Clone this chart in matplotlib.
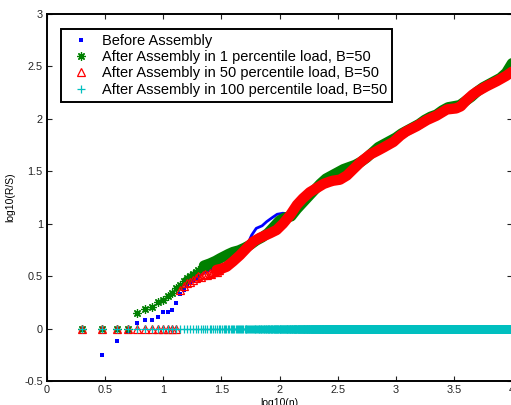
import numpy as np
import matplotlib
matplotlib.use("Agg")
import matplotlib.pyplot as plt
from matplotlib.lines import Line2D

plt.rcParams['font.family'] = ['Liberation Sans', 'DejaVu Sans']

# ---------------- data ----------------
# sample sizes n (x axis is log10(n))
sample_n = np.arange(2, 10001)

# Before Assembly: individual points for small n
before_n = [2, 3, 4, 5, 6, 7, 8, 9, 10, 11, 12, 13, 14, 15, 16, 17, 18, 19, 20]
before_y = [0.0, -0.25, -0.115, -0.02, 0.055, 0.082, 0.082, 0.114, 0.16, 0.16,
            0.177, 0.245, 0.327, 0.368, 0.416, 0.44, 0.46, 0.48, 0.50]
# Before Assembly: dense part (log10 n, log10 R/S)
before_bx = [1.30, 1.40, 1.50, 1.60, 1.68, 1.74, 1.76, 1.80, 1.85, 1.89, 1.94, 1.98,
             2.03, 2.08, 2.12, 2.20, 2.30, 2.40, 2.50, 2.60, 2.70, 2.80, 2.90, 3.00,
             3.10, 3.20, 3.30, 3.40, 3.50, 3.60, 3.70, 3.80, 3.90, 4.00]
before_by = [0.50, 0.56, 0.60, 0.65, 0.74, 0.84, 0.89, 0.956, 0.98, 1.02, 1.06, 1.09,
             1.10, 1.09, 1.12, 1.23, 1.35, 1.42, 1.46, 1.55, 1.60, 1.68, 1.75, 1.80,
             1.88, 1.95, 2.02, 2.07, 2.11, 2.18, 2.27, 2.33, 2.39, 2.48]

# After Assembly, 1 percentile load
p1_n = [2, 3, 4, 5, 6, 7, 8, 9, 10, 11, 12, 13, 14, 15, 16, 17, 18, 19, 20,
        21, 22, 23, 24, 25]
p1_y = [0.0, 0.0, 0.0, 0.0, 0.15, 0.187, 0.209, 0.257, 0.273, 0.311, 0.342, 0.39,
        0.42, 0.45, 0.48, 0.50, 0.52, 0.54, 0.555, 0.565, 0.575, 0.585, 0.595, 0.605]
p1_bx = [1.35, 1.40, 1.45, 1.49, 1.56, 1.60, 1.65, 1.70, 1.75, 1.80, 1.85,
         1.90, 1.95, 2.00, 2.05, 2.10, 2.15, 2.20, 2.25, 2.30, 2.35, 2.40, 2.45,
         2.50, 2.55, 2.60, 2.65, 2.70, 2.75, 2.80, 2.85, 2.90, 2.95, 3.00, 3.05,
         3.10, 3.15, 3.20, 3.25, 3.30, 3.35, 3.40, 3.45, 3.50, 3.55, 3.60, 3.65,
         3.70, 3.75, 3.80, 3.85, 3.90, 3.95, 4.00]
p1_by = [0.60, 0.62, 0.645, 0.67, 0.71, 0.73, 0.745, 0.77, 0.80, 0.84, 0.87,
         0.91, 0.97, 1.03, 1.06, 1.07, 1.14, 1.20, 1.26, 1.32, 1.38, 1.43, 1.46,
         1.49, 1.52, 1.54, 1.56, 1.59, 1.63, 1.68, 1.73, 1.76, 1.79, 1.82, 1.86,
         1.89, 1.92, 1.95, 1.99, 2.02, 2.04, 2.08, 2.11, 2.12, 2.13, 2.17, 2.21,
         2.26, 2.30, 2.33, 2.36, 2.39, 2.44, 2.53]

# After Assembly, 50 percentile load
p50_n = [2, 3, 4, 5, 6, 7, 8, 9, 10, 11, 12, 13, 14, 15, 16, 17, 18, 19, 20,
         21, 22, 23, 24, 25, 26, 27, 28, 29, 30]
p50_y = [0.0, 0.0, 0.0, 0.0, 0.0, 0.0, 0.0, 0.0, 0.0, 0.0, 0.0, 0.0, 0.37, 0.41,
         0.43, 0.44, 0.46, 0.48, 0.50, 0.49, 0.51, 0.52, 0.51, 0.53, 0.52, 0.54,
         0.55, 0.54, 0.56]
p50_bx = [1.46, 1.50, 1.545, 1.60, 1.66, 1.72, 1.775, 1.83, 1.88, 1.92,
          1.975, 2.03, 2.09, 2.15, 2.20, 2.26, 2.32, 2.38, 2.43, 2.46, 2.52, 2.58,
          2.635, 2.70, 2.78, 2.85, 2.90, 2.98, 3.04, 3.09, 3.18, 3.27, 3.35, 3.44,
          3.52, 3.56, 3.61, 3.66, 3.70, 3.78, 3.87, 3.95, 4.00]
p50_by = [0.56, 0.57, 0.59, 0.64, 0.70, 0.77, 0.83, 0.865, 0.89, 0.91,
          0.94, 1.00, 1.08, 1.18, 1.24, 1.30, 1.34, 1.38, 1.40, 1.41, 1.42, 1.46,
          1.52, 1.59, 1.66, 1.70, 1.73, 1.78, 1.84, 1.88, 1.93, 1.99, 2.03, 2.09,
          2.10, 2.12, 2.18, 2.23, 2.26, 2.31, 2.36, 2.41, 2.45]

# After Assembly, 100 percentile load: log10(R/S) is 0 for every n
p100_y = np.zeros(len(sample_n))

labels = ['Before Assembly',
          'After Assembly in 1 percentile load, B=50',
          'After Assembly in 50 percentile load, B=50',
          'After Assembly in 100 percentile load, B=50']

x_ticks = [0, 0.5, 1, 1.5, 2, 2.5, 3, 3.5, 4]
x_tick_labels = ['0', '0.5', '1', '1.5', '2', '2.5', '3', '3.5', '4']
y_ticks = [-0.5, 0, 0.5, 1, 1.5, 2, 2.5, 3]
y_tick_labels = ['-0.5', '0', '0.5', '1', '1.5', '2', '2.5', '3']

# ---------------- style ----------------
BLUE = (0, 0, 1)
GREEN = (0, 0.5, 0)
RED = (1, 0, 0)
CYAN = (0, 0.75, 0.75)

fig = plt.figure(figsize=(5.11, 4.05), dpi=100)
ax = fig.add_axes([47 / 511, 24 / 405, 465 / 511, 367 / 405])

# Before Assembly
ax.plot(before_bx, before_by, '-', color=BLUE, lw=2.0, solid_capstyle='round', zorder=2)
ax.plot(np.log10(before_n), before_y, ls='none', marker='s', color=BLUE, ms=2.2,
        mew=0, zorder=2)

# 1 percentile
ax.plot(p1_bx, p1_by, '-', color=GREEN, lw=7.5, solid_capstyle='round', zorder=3)
ax.plot(np.log10(p1_n), p1_y, ls='none', marker=(8, 2, 0), color=GREEN, ms=6,
        mew=0.9, zorder=3)

# 50 percentile
ax.plot(p50_bx, p50_by, '-', color=RED, lw=7.5, solid_capstyle='round', zorder=4)
ax.plot(np.log10(p50_n), p50_y, ls='none', marker='^', mfc='none', mec=RED, ms=6,
        mew=0.9, zorder=4)

# 100 percentile
ax.plot(np.log10(sample_n), p100_y, ls='none', marker='+', color=CYAN, ms=5.5,
        mew=0.9, zorder=5)

ax.set_xlim(0, 4)
ax.set_ylim(-0.5, 3)
ax.set_xticks(x_ticks)
ax.set_xticklabels(x_tick_labels)
ax.set_yticks(y_ticks)
ax.set_yticklabels(y_tick_labels)
ax.tick_params(direction='in', length=3.5, width=0.8, top=True, right=True,
               labelsize=7.8, colors='#222222', pad=3)
for s in ax.spines.values():
    s.set_linewidth(1.4)
ax.set_xlabel('log10(n)', fontsize=7.5, labelpad=2)
ax.set_ylabel('log10(R/S)', fontsize=7.5, labelpad=6)

handles = [
    Line2D([], [], ls='none', marker='s', color=BLUE, ms=2.2, mew=0),
    Line2D([], [], ls='none', marker=(8, 2, 0), color=GREEN, ms=6, mew=0.9),
    Line2D([], [], ls='none', marker='^', mfc='none', mec=RED, ms=6, mew=0.9),
    Line2D([], [], ls='none', marker='+', color=CYAN, ms=5.5, mew=0.9),
]
leg = ax.legend(handles, labels, loc='upper left',
                bbox_to_anchor=(61 / 511, 1 - 29 / 405), bbox_transform=fig.transFigure,
                borderaxespad=0, fontsize=10.5, fancybox=False, framealpha=1,
                edgecolor='black', borderpad=0.35, handlelength=2.04,
                handletextpad=0.42, labelspacing=0.15)
leg.get_frame().set_linewidth(1.4)

fig.savefig('out.png', dpi=100)
